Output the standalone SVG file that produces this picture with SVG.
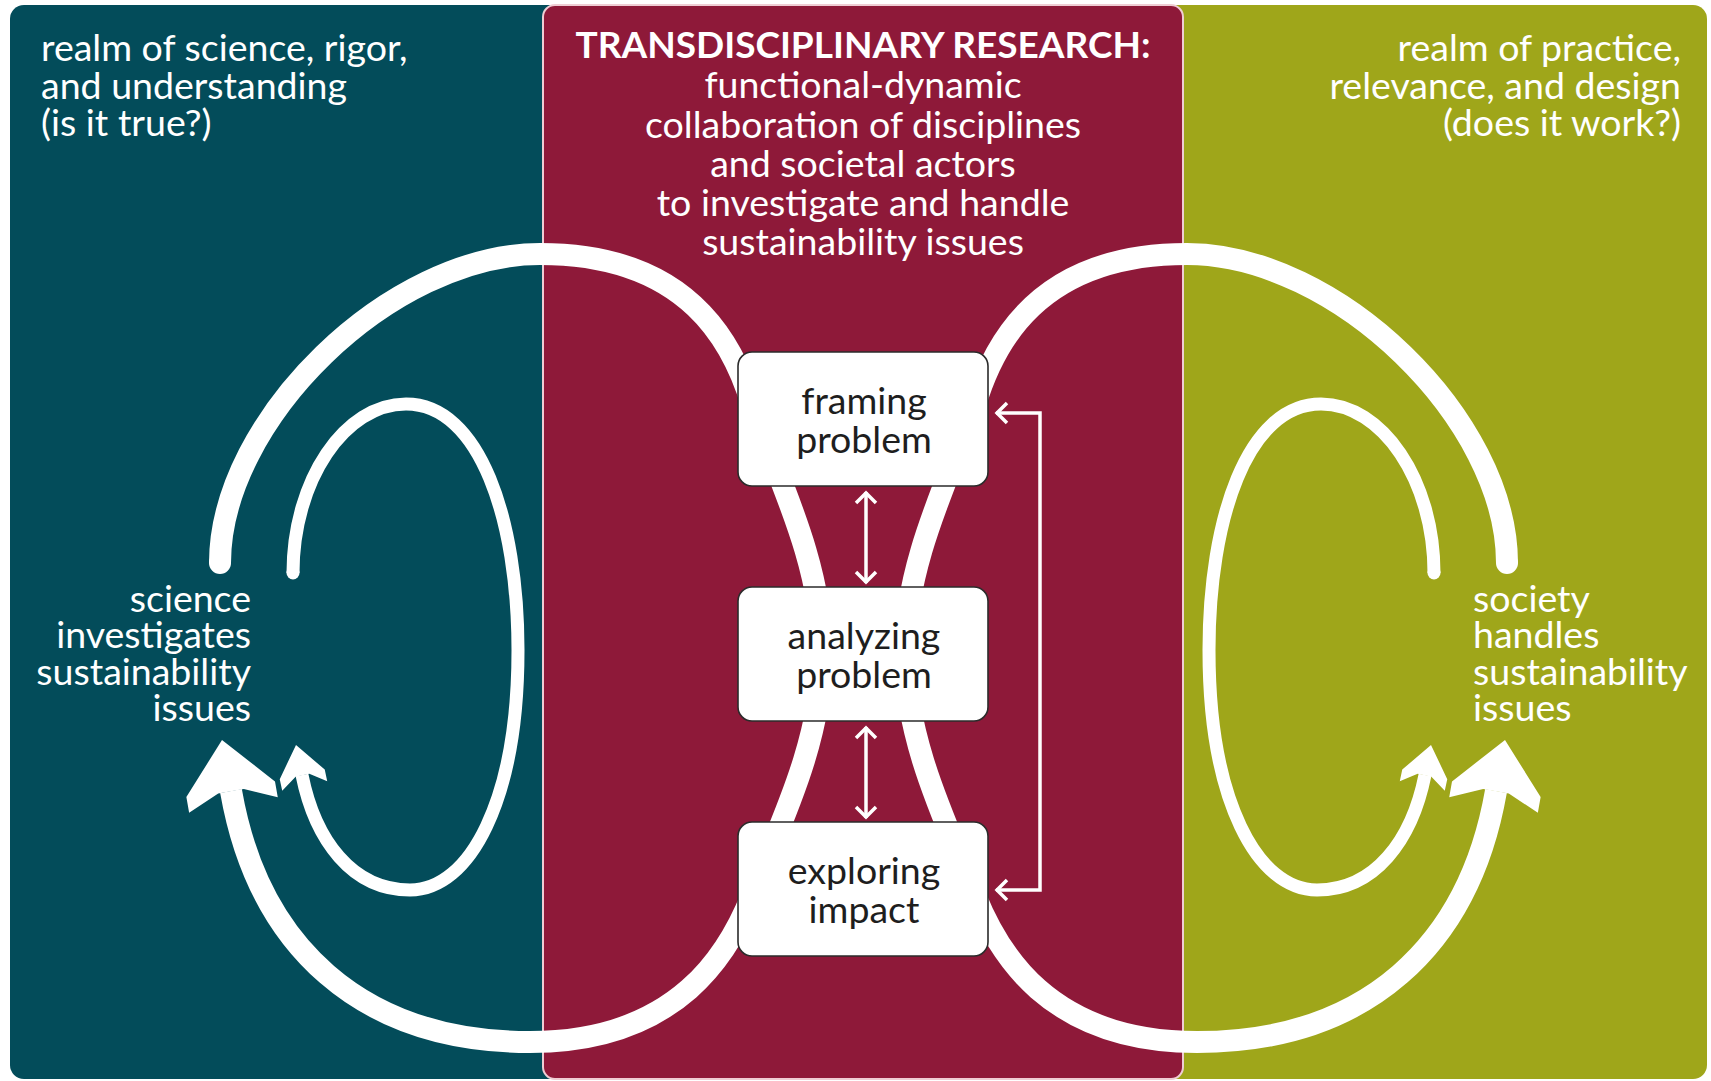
<svg xmlns="http://www.w3.org/2000/svg" width="1711" height="1081" viewBox="0 0 1711 1081">
<defs>
<style>
.lbl{font-family:Lato,"Open Sans","DejaVu Sans",sans-serif;fill:#fff;font-size:37.5px}
.ttl{font-family:Lato,"Open Sans","DejaVu Sans",sans-serif;fill:#fff;font-size:37px;font-weight:bold}
.box{fill:#fff;stroke:#2b2b2b;stroke-width:1.6}
.bt{font-family:Lato,"Open Sans","DejaVu Sans",sans-serif;fill:#1e1e1e;font-size:37.5px;text-anchor:middle}
.big{fill:none;stroke:#fff;stroke-width:22}
.thin{fill:none;stroke:#fff;stroke-width:13}
.fb{fill:none;stroke:#fff;stroke-width:3.5}
</style>
<marker id="chev" viewBox="-14 -12 16 24" markerWidth="16" markerHeight="24" refX="0" refY="0" orient="auto-start-reverse" markerUnits="userSpaceOnUse">
<path d="M-11,-10 L-1,0 L-11,10" fill="none" stroke="#fff" stroke-width="3.5"/>
</marker>
<polygon id="bighead" points="0,0 45,50 45,66 13,52 -13,52 -45,66 -45,50" fill="#fff"/>
<polygon id="smallhead" points="0,0 23,30 23,42 7,31 -7,31 -23,42 -23,30" fill="#fff"/>
</defs>
<rect width="1711" height="1081" fill="#fff"/>
<g id="panels">
<rect x="10" y="5" width="560" height="1074" rx="14" fill="#034c5a"/>
<rect x="1160" y="5" width="547" height="1074" rx="14" fill="#9fa61a"/>
<rect x="543" y="5" width="640" height="1074" rx="12" fill="#8e1939" stroke="#efcdd4" stroke-width="2"/>
</g>
<g id="texts">
<text class="lbl" x="41" y="61">realm of science, rigor,</text>
<text class="lbl" x="41" y="99">and understanding</text>
<text class="lbl" x="41" y="136">(is it true?)</text>
<text class="lbl" x="1681" y="61" text-anchor="end">realm of practice,</text>
<text class="lbl" x="1681" y="99" text-anchor="end">relevance, and design</text>
<text class="lbl" x="1681" y="136" text-anchor="end">(does it work?)</text>
<text class="ttl" x="863" y="58" text-anchor="middle">TRANSDISCIPLINARY RESEARCH:</text>
<text class="lbl" x="863" y="98" text-anchor="middle">functional-dynamic</text>
<text class="lbl" x="863" y="138" text-anchor="middle">collaboration of disciplines</text>
<text class="lbl" x="863" y="177" text-anchor="middle">and societal actors</text>
<text class="lbl" x="863" y="216" text-anchor="middle">to investigate and handle</text>
<text class="lbl" x="863" y="255" text-anchor="middle">sustainability issues</text>
<text class="lbl" x="251" y="612" text-anchor="end">science</text>
<text class="lbl" x="251" y="648" text-anchor="end">investigates</text>
<text class="lbl" x="251" y="685" text-anchor="end">sustainability</text>
<text class="lbl" x="251" y="721" text-anchor="end">issues</text>
<text class="lbl" x="1473" y="612">society</text>
<text class="lbl" x="1473" y="648">handles</text>
<text class="lbl" x="1473" y="685">sustainability</text>
<text class="lbl" x="1473" y="721">issues</text>
</g>
<g id="connectors">
<path class="big" d="M 220 563 C 220 420, 390 254, 540 254 C 690 254, 734 345, 752 405 C 774 470, 822 560, 822 653 C 822 746, 774 836, 752 895 C 730 950, 680 1042, 530 1042 C 360 1042, 258 945, 231 791"/>
<circle cx="220" cy="563" r="11" fill="#fff"/>
<use href="#bighead" transform="translate(222 740) rotate(-10)"/>
<path class="thin" d="M 293 573 C 293 480, 345 404, 406 404 C 480 404, 518 520, 518 650 C 518 800, 470 890, 410 890 C 352 890, 315 840, 302 775"/>
<circle cx="293" cy="573" r="6.5" fill="#fff"/>
<use href="#smallhead" transform="translate(296 745) rotate(-12)"/>
<path class="big" d="M 1507 563 C 1507 420, 1337 254, 1187 254 C 1037 254, 993 345, 975 405 C 953 470, 905 560, 905 653 C 905 746, 953 836, 975 895 C 997 950, 1047 1042, 1197 1042 C 1367 1042, 1469 945, 1496 791"/>
<circle cx="1507" cy="563" r="11" fill="#fff"/>
<use href="#bighead" transform="translate(1505 740) rotate(10)"/>
<path class="thin" d="M 1434 573 C 1434 480, 1382 404, 1321 404 C 1247 404, 1209 520, 1209 650 C 1209 800, 1257 890, 1317 890 C 1375 890, 1412 840, 1425 775"/>
<circle cx="1434" cy="573" r="6.5" fill="#fff"/>
<use href="#smallhead" transform="translate(1431 745) rotate(12)"/>
<path class="fb" d="M 866 492 L 866 583" marker-start="url(#chev)" marker-end="url(#chev)"/>
<path class="fb" d="M 866 727 L 866 818" marker-start="url(#chev)" marker-end="url(#chev)"/>
<path class="fb" d="M 996 413 L 1040 413 L 1040 890 L 996 890" marker-start="url(#chev)" marker-end="url(#chev)"/>
</g>
<g id="node-framing">
<rect class="box" x="738" y="352" width="250" height="134" rx="14"/>
<text class="bt" x="864" y="414">framing</text>
<text class="bt" x="864" y="453">problem</text>
</g>
<g id="node-analyzing">
<rect class="box" x="738" y="587" width="250" height="134" rx="14"/>
<text class="bt" x="864" y="649">analyzing</text>
<text class="bt" x="864" y="688">problem</text>
</g>
<g id="node-exploring">
<rect class="box" x="738" y="822" width="250" height="134" rx="14"/>
<text class="bt" x="864" y="884">exploring</text>
<text class="bt" x="864" y="923">impact</text>
</g>
</svg>
